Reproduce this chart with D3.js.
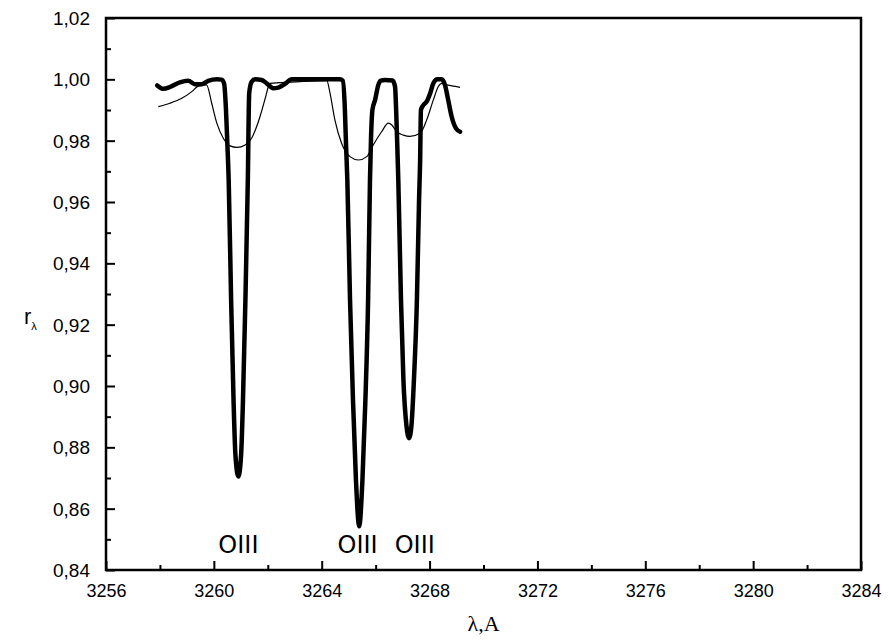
<!DOCTYPE html>
<html>
<head>
<meta charset="utf-8">
<script src="https://cdn.jsdelivr.net/npm/d3@7"></script>
<style>
  body { margin: 0; background: #fff; }
  svg { display: block; }
</style>
</head>
<body>
<div id="chart"></div>
<script>
const width = 889;
const height = 640;
const margin = {top: 18, right: 28, bottom: 70, left: 106};

// thick curve: wavelength (A) and r
const thickX = [3257.90, 3258.13, 3258.37, 3258.74, 3259.05, 3259.30, 3259.55, 3259.79, 3260.11, 3260.29,
  3260.38, 3260.45, 3260.50, 3260.55, 3260.64, 3260.73, 3260.80, 3260.91, 3261.01, 3261.08,
  3261.17, 3261.26, 3261.31, 3261.40, 3261.53, 3261.77, 3261.96, 3262.20, 3262.39, 3262.64,
  3262.89, 3263.19, 3264.68, 3264.78, 3264.86, 3264.90, 3264.95, 3265.05, 3265.16, 3265.27,
  3265.39, 3265.51, 3265.62, 3265.72, 3265.79, 3265.83, 3265.88, 3265.98, 3266.10, 3266.19,
  3266.35, 3266.63, 3266.72, 3266.76, 3266.80, 3266.84, 3266.94, 3267.03, 3267.14, 3267.24,
  3267.33, 3267.42, 3267.53, 3267.61, 3267.65, 3267.68, 3267.77, 3267.89, 3268.02, 3268.14,
  3268.29, 3268.45, 3268.57, 3268.69, 3268.82, 3268.98, 3269.13];
const thickY = [0.9980, 0.9969, 0.9975, 0.9990, 0.9995, 0.9984, 0.9984, 0.9995, 1.0000, 0.9999,
  0.9986, 0.9900, 0.9791, 0.9672, 0.9280, 0.8954, 0.8775, 0.8705, 0.8775, 0.8954,
  0.9280, 0.9672, 0.9954, 0.9992, 1.0000, 0.9998, 0.9987, 0.9971, 0.9973, 0.9985,
  1.0000, 1.0000, 1.0000, 0.9996, 0.9900, 0.9791, 0.9672, 0.9280, 0.8954, 0.8693,
  0.8543, 0.8693, 0.8954, 0.9280, 0.9672, 0.9813, 0.9900, 0.9933, 0.9982, 0.9996,
  0.9998, 0.9996, 0.9976, 0.9900, 0.9792, 0.9672, 0.9280, 0.9020, 0.8873, 0.8830,
  0.8873, 0.9020, 0.9280, 0.9607, 0.9737, 0.9900, 0.9916, 0.9927, 0.9954, 0.9987,
  1.0000, 1.0000, 0.9982, 0.9933, 0.9878, 0.9840, 0.9829];

// thin curve
const thinX = [3257.94, 3258.37, 3258.81, 3259.18, 3259.42, 3259.73, 3259.92, 3260.11, 3260.35, 3260.60,
  3260.85, 3261.16, 3261.40, 3261.71, 3261.92, 3262.02, 3262.08, 3262.45, 3263.07, 3264.19,
  3264.31, 3264.49, 3264.74, 3265.05, 3265.36, 3265.67, 3265.91, 3266.22, 3266.47, 3266.60,
  3266.78, 3267.03, 3267.27, 3267.65, 3267.89, 3268.14, 3268.32, 3268.45, 3268.64, 3269.01, 3269.13];
const thinY = [0.9911, 0.9922, 0.9938, 0.9960, 0.9978, 0.9982, 0.9922, 0.9857, 0.9808, 0.9783,
  0.9778, 0.9786, 0.9808, 0.9878, 0.9943, 0.9976, 0.9987, 0.9989, 0.9992, 0.9996,
  0.9954, 0.9867, 0.9791, 0.9748, 0.9737, 0.9748, 0.9786, 0.9829, 0.9857, 0.9851,
  0.9829, 0.9818, 0.9814, 0.9824, 0.9867, 0.9933, 0.9976, 0.9987, 0.9982, 0.9976, 0.9974];

const lineLabels = ['OIII', 'OIII', 'OIII'];
const lineLabelX = [3260.91, 3265.33, 3267.45];

const xTicks = [3256, 3260, 3264, 3268, 3272, 3276, 3280, 3284];
const yTicks = [0.84, 0.86, 0.88, 0.90, 0.92, 0.94, 0.96, 0.98, 1.00, 1.02];

const svg = d3.select('#chart')
  .append('svg')
  .attr('width', width)
  .attr('height', height);

const x = d3.scaleLinear()
  .domain([3256, 3284])
  .range([margin.left, width - margin.right]);

const y = d3.scaleLinear()
  .domain([0.84, 1.02])
  .range([height - margin.bottom, margin.top]);

const comma = d => d3.format('.2f')(d).replace('.', ',');

// axes with inward ticks
const xMinor = d3.range(3258, 3284, 4);
const yMinor = d3.range(0.85, 1.02, 0.02);

svg.append('g')
  .attr('transform', 'translate(0,' + y.range()[0] + ')')
  .call(d3.axisTop(x).tickValues(xMinor).tickSize(5).tickFormat(''))
  .call(g => g.select('.domain').remove());

svg.append('g')
  .attr('transform', 'translate(' + x.range()[0] + ',0)')
  .call(d3.axisRight(y).tickValues(yMinor).tickSize(5).tickFormat(''))
  .call(g => g.select('.domain').remove());

const xAxis = svg.append('g')
  .attr('transform', 'translate(0,' + y.range()[0] + ')')
  .call(d3.axisTop(x).tickValues(xTicks).tickSize(9).tickFormat(d3.format('d')));
xAxis.select('.domain').remove();
xAxis.selectAll('text')
  .attr('y', 27)
  .attr('dy', 0)
  .style('font-family', 'Liberation Sans, Arial, sans-serif')
  .style('font-size', '18px')
  .attr('fill', '#000');

const yAxis = svg.append('g')
  .attr('transform', 'translate(' + x.range()[0] + ',0)')
  .call(d3.axisRight(y).tickValues(yTicks).tickSize(9).tickFormat(comma));
yAxis.select('.domain').remove();
yAxis.selectAll('text')
  .attr('x', -16)
  .attr('text-anchor', 'end')
  .attr('dy', '0.35em')
  .style('font-family', 'Liberation Sans, Arial, sans-serif')
  .style('font-size', '19px')
  .attr('fill', '#000');

svg.selectAll('.tick line').attr('stroke', '#000').attr('stroke-width', 2);

// frame
svg.append('rect')
  .attr('x', x.range()[0])
  .attr('y', y.range()[1])
  .attr('width', x.range()[1] - x.range()[0])
  .attr('height', y.range()[0] - y.range()[1])
  .attr('fill', 'none')
  .attr('stroke', '#000')
  .attr('stroke-width', 2.5);

const line = d3.line()
  .x(d => x(d[0]))
  .y(d => y(d[1]))
  .curve(d3.curveMonotoneX);

svg.append('path')
  .datum(d3.zip(thinX, thinY))
  .attr('d', line)
  .attr('fill', 'none')
  .attr('stroke', '#000')
  .attr('stroke-width', 1.2);

svg.append('path')
  .datum(d3.zip(thickX, thickY))
  .attr('d', line)
  .attr('fill', 'none')
  .attr('stroke', '#000')
  .attr('stroke-width', 4.5)
  .attr('stroke-linejoin', 'round')
  .attr('stroke-linecap', 'round');

svg.selectAll('.line-label')
  .data(lineLabels)
  .enter()
  .append('text')
  .attr('class', 'line-label')
  .attr('x', (d, i) => x(lineLabelX[i]))
  .attr('y', 553)
  .attr('text-anchor', 'middle')
  .style('font-family', 'DejaVu Sans, sans-serif')
  .style('font-size', '24px')
  .text(d => d);

// axis titles
svg.append('text')
  .attr('x', (x.range()[0] + x.range()[1]) / 2)
  .attr('y', 631)
  .attr('text-anchor', 'middle')
  .style('font-family', 'Liberation Serif, Times New Roman, serif')
  .style('font-size', '22px')
  .text('λ,A');

const yTitle = svg.append('text')
  .attr('x', 24)
  .attr('y', 324)
  .style('font-family', 'Liberation Sans, Arial, sans-serif')
  .style('font-size', '22px');
yTitle.append('tspan').text('r');
yTitle.append('tspan')
  .attr('dy', 6)
  .style('font-size', '11px')
  .text('λ');
</script>
</body>
</html>
